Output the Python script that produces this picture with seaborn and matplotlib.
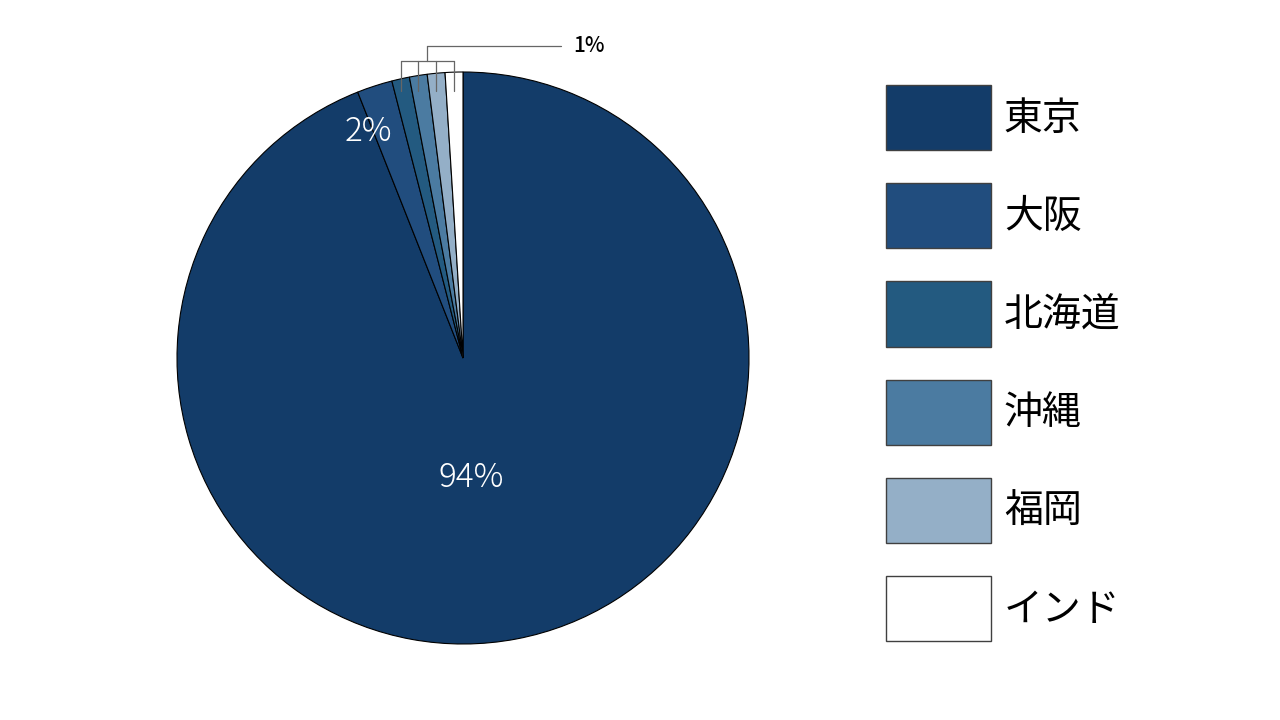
import numpy as np
import seaborn as sns
import matplotlib.pyplot as plt
from matplotlib.patches import Patch

sns.set_theme(style="white")
plt.rcParams['font.family'] = ['Noto Sans CJK JP', 'DejaVu Sans']

# data
regions = ["東京", "大阪", "北海道", "沖縄", "福岡", "インド"]
shares = [94, 2, 1, 1, 1, 1]
colors = ["#133c69", "#214d7e", "#235a80", "#4b7ba1", "#94afc7", "#ffffff"]

fig = plt.figure(figsize=(12.8, 7.2), dpi=100)
span = 2.1
ax = fig.add_axes([(463 - 143 * span) / 1280, (362 - 143 * span) / 720,
                   286 * span / 1280, 286 * span / 720])
wedges, _ = ax.pie(shares, colors=colors, startangle=90, counterclock=False,
                   wedgeprops=dict(edgecolor="black", linewidth=0.8))
ax.set_xlim(-span / 2, span / 2)
ax.set_ylim(-span / 2, span / 2)
ax.set_aspect("equal")
ax.axis("off")

# in-slice labels
ax.text(0.03, -0.42, f"{shares[0]}%", color="white", fontsize=24,
        fontweight="light", ha="center", va="center")
ax.text(-0.33, 0.79, f"{shares[1]}%", color="white", fontsize=24,
        fontweight="light", ha="center", va="center")

# bracket callout for the small slices
mids = []
for w in wedges[2:]:
    ang = np.deg2rad((w.theta1 + w.theta2) / 2)
    mids.append(np.cos(ang))
lc = "#666666"
y_low, y_bar, y_top = 0.934, 1.038, 1.091
for x in mids:
    ax.plot([x, x], [y_low, y_bar], color=lc, lw=0.9, clip_on=False)
ax.plot([min(mids), max(mids)], [y_bar, y_bar], color=lc, lw=0.9, clip_on=False)
xm = np.mean(mids)
ax.plot([xm, xm], [y_bar, y_top], color=lc, lw=0.9, clip_on=False)
ax.plot([xm, 0.343], [y_top, y_top], color=lc, lw=0.9, clip_on=False)
ax.text(0.385, y_top, f"{shares[2]}%", fontsize=15, fontweight="medium",
        ha="left", va="center", color="black")

# legend
handles = [Patch(facecolor=c, edgecolor="#404040", linewidth=1.0) for c in colors]
leg = fig.legend(handles, regions, loc="upper left",
                 bbox_to_anchor=(886 / 1280, 1 - 85 / 720),
                 frameon=False, fontsize=28, handlelength=2.7, handleheight=2.2,
                 labelspacing=0.85, handletextpad=0.33, borderpad=0, borderaxespad=0)
for t in leg.get_texts():
    t.set_color("black")

fig.savefig("out.png", dpi=100)
